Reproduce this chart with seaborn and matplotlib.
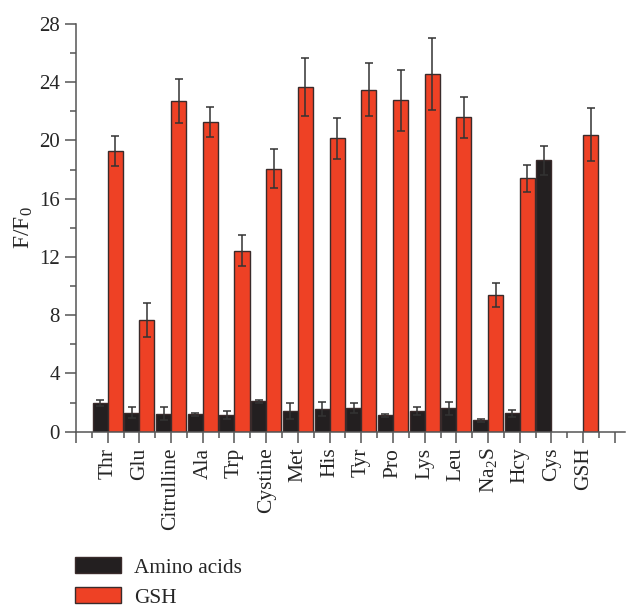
import numpy as np
import pandas as pd
import matplotlib
matplotlib.use("Agg")
import matplotlib.pyplot as plt
import seaborn as sns

# values
categories = ["Thr", "Glu", "Citrulline", "Ala", "Trp", "Cystine", "Met", "His",
              "Tyr", "Pro", "Lys", "Leu", "Na$_2$S", "Hcy", "Cys", "GSH"]
amino_vals = [1.99, 1.31, 1.22, 1.19, 1.17, 2.09, 1.42, 1.56,
              1.61, 1.13, 1.40, 1.61, 0.78, 1.26, 18.64, np.nan]
amino_err = [0.20, 0.36, 0.45, 0.08, 0.27, 0.10, 0.57, 0.48,
             0.34, 0.09, 0.27, 0.45, 0.10, 0.25, 1.00, np.nan]
gsh_vals = [19.28, 7.67, 22.71, 21.27, 12.43, 18.06, 23.67, 20.15,
            23.49, 22.76, 24.57, 21.59, 9.41, 17.40, np.nan, 20.40]
gsh_err = [1.00, 1.20, 1.50, 1.02, 1.08, 1.33, 2.02, 1.42,
           1.82, 2.08, 2.49, 1.40, 0.82, 0.92, np.nan, 1.83]
groups = ["Amino acids", "GSH"]
colors = ["#231F20", "#EE4125"]

df = pd.concat([
    pd.DataFrame({"name": categories, "value": amino_vals, "err": amino_err, "group": groups[0]}),
    pd.DataFrame({"name": categories, "value": gsh_vals, "err": gsh_err, "group": groups[1]}),
])

sns.set_style("ticks")
plt.rcParams["font.family"] = ["Liberation Serif", "DejaVu Serif"]
plt.rcParams["mathtext.default"] = "regular"

fig = plt.figure(figsize=(6.26, 6.07), dpi=100)
ax = fig.add_axes([76 / 626, (607 - 431.7) / 607, 549 / 626, 407.7 / 607])

sns.barplot(data=df.dropna(subset=["value"]), x="name", y="value", hue="group",
            order=categories, hue_order=groups, palette=colors, width=0.95,
            saturation=1, edgecolor="#3a2b2b", linewidth=1.0, errorbar=None,
            legend=True, ax=ax)

# error bars on top of each bar
errs = {groups[0]: amino_err, groups[1]: gsh_err}
for cont, g in zip(ax.containers, groups):
    for bar in cont:
        xc = bar.get_x() + bar.get_width() / 2
        h = bar.get_height()
        if np.isnan(h):
            continue
        i = int(round(xc))
        ax.errorbar(xc, h, yerr=errs[g][i], color="#333333", elinewidth=1.1,
                    capsize=2.6, capthick=1.1, fmt="none", zorder=3)

ax.set_ylim(0, 28)
ax.set_xlim(-1, 16.32)
ax.set_yticks(np.arange(0, 29, 4))
ax.set_yticks(np.arange(2, 28, 4), minor=True)
ax.set_xticks(np.arange(-1, 17, 1))
ax.set_xticks(np.arange(-0.5, 16.5, 1), minor=True)
ax.set_xticklabels([""] + categories + [""], rotation=90, fontsize=15.5)
ax.tick_params(axis="y", labelsize=15)
ax.tick_params(which="major", length=8, width=1.1, color="#555555")
ax.tick_params(which="minor", length=4.5, width=1.1, color="#555555")
ax.set_xlabel("")
ax.set_ylabel("F/F$_0$", fontsize=17, labelpad=3)
sns.despine(ax=ax)
for s in ("left", "bottom"):
    ax.spines[s].set_color("#555555")
    ax.spines[s].set_linewidth(1.1)

handles, labels = ax.get_legend_handles_labels()
ax.get_legend().remove()
fig.legend(handles, labels, loc="upper left", bbox_to_anchor=(75 / 626, 1 - 557 / 607),
           frameon=False, fontsize=15.3, borderpad=0, borderaxespad=0,
           handlelength=2.15, handleheight=0.8, handletextpad=0.62, labelspacing=0.45)

fig.savefig("out.png", dpi=100)
